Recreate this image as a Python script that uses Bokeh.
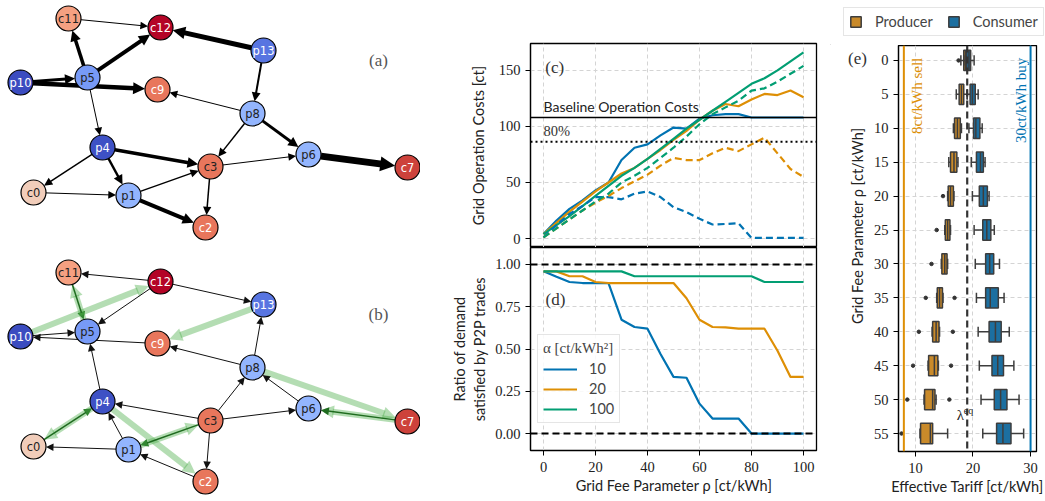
import math
from bokeh.plotting import figure
from bokeh.models import (Range1d, Arrow, NormalHead, Label, Legend, LegendItem,
                          FixedTicker, PrintfTickFormatter, Span)
from bokeh.layouts import row, column
from bokeh.embed import file_html
from bokeh.resources import INLINE
from bokeh.core.properties import value

SERIF = "Liberation Serif"
SANS = "Lato"
NODE_FONT = "DejaVu Sans"
BLUE, ORANGE, GREEN = "#0173b2", "#de8f05", "#029e73"
BOX_ORANGE, BOX_BLUE, BOX_EDGE = "#c98a2a", "#1c6fa0", "#3d3d3d"

# ---------------- data: panels (c) and (d) ----------------
rho = [0, 5, 10, 15, 20, 25, 30, 35, 40, 45, 50, 55, 60, 65, 70, 75, 80, 85, 90, 95, 100]
cost_a10 = [4, 16, 26.5, 34, 43, 50, 70, 81, 84, 92, 99, 98, 107, 110, 111, 111, 108, 108, 108, 108, 108]
cost_a10_dash = [1, 12, 22, 29, 37, 37, 35, 40, 42, 37, 28, 23.5, 17.6, 12.5, 13, 13.7, 0.6, 0.5, 0.5, 0.5, 0.5]
cost_a20 = [4, 14, 24, 33, 42, 50, 58, 63, 71, 79, 88, 96, 106, 114, 120, 118, 124, 129, 128, 132, 126]
cost_a20_dash = [1, 9, 17, 25, 32, 38, 45, 51, 57, 65, 72, 70, 70, 76, 81, 78, 84, 90, 76, 62, 55]
cost_a100 = [4, 12, 20, 29, 38, 47, 56, 63, 71, 80, 89, 98, 106, 114, 122, 130, 138, 143, 150, 158, 166]
cost_a100_dash = [1, 9, 17, 25, 33, 40, 50, 56, 63, 72, 81, 91, 102, 111, 117, 123, 132, 134, 140, 147, 154]
baseline_cost = 108
ratio_a10 = [0.959, 0.927, 0.896, 0.89, 0.89, 0.89, 0.673, 0.63, 0.62, 0.47, 0.335,
             0.33, 0.177, 0.089, 0.089, 0.089, 0.0, 0.0, 0.0, 0.0, 0.0]
ratio_a20 = [0.959, 0.959, 0.93, 0.93, 0.896, 0.89, 0.89, 0.89, 0.89, 0.89, 0.89,
             0.80, 0.673, 0.63, 0.628, 0.62, 0.62, 0.62, 0.49, 0.335, 0.335]
ratio_a100 = [0.959, 0.959, 0.959, 0.959, 0.959, 0.959, 0.959, 0.93, 0.93, 0.93, 0.93,
              0.93, 0.93, 0.93, 0.93, 0.93, 0.93, 0.896, 0.896, 0.896, 0.896]
alpha_labels = ["10", "20", "100"]

# ---------------- data: panel (e) ----------------
rho_box = [0, 5, 10, 15, 20, 25, 30, 35, 40, 45, 50, 55]
prod_q1 = [18.4, 17.6, 16.8, 16.1, 15.7, 15.2, 14.6, 13.8, 13.0, 12.3, 11.6, 10.9]
prod_med = [18.7, 18.0, 17.3, 16.7, 16.1, 15.6, 15.1, 14.2, 13.6, 13.3, 13.0, 12.6]
prod_q3 = [19.0, 18.4, 17.8, 17.2, 16.6, 16.0, 15.5, 14.7, 14.1, 13.9, 13.4, 13.0]
prod_lo = [17.9, 17.1, 16.6, 15.8, 15.6, 15.1, 14.5, 13.7, 12.9, 12.2, 11.5, 10.8]
prod_hi = [19.2, 19.0, 18.0, 17.4, 16.7, 16.1, 15.6, 14.8, 14.2, 14.0, 13.6, 15.6]
prod_out_rho = [0, 20, 25, 30, 35, 35, 40, 40, 45, 45, 50, 50, 55]
prod_out_val = [17.5, 14.8, 13.7, 12.8, 11.8, 16.8, 10.6, 16.5, 9.6, 16.2, 8.6, 15.9, 7.6]
cons_q1 = [18.9, 19.5, 20.1, 20.6, 21.1, 21.7, 22.2, 22.2, 22.8, 23.3, 23.7, 24.1]
cons_med = [19.3, 19.9, 20.5, 21.3, 21.8, 22.4, 22.9, 23.0, 23.9, 24.3, 24.8, 25.2]
cons_q3 = [19.6, 20.4, 21.2, 21.8, 22.5, 23.1, 23.6, 24.4, 24.9, 25.3, 25.9, 26.6]
cons_lo = [18.4, 19.0, 19.3, 19.7, 19.9, 20.2, 20.4, 20.6, 20.9, 21.1, 21.4, 21.7]
cons_hi = [20.2, 20.9, 21.6, 22.1, 22.8, 23.7, 24.6, 25.4, 26.3, 27.1, 28.0, 28.8]
sell_price = 8
buy_price = 30
lambda_eq = 19
group_names = ["Producer", "Consumer"]

# ---------------- data: network panels (a), (b) ----------------
nodes = ["c0", "p1", "c2", "c3", "p4", "p5", "p6", "c7", "p8", "c9", "p10", "c11", "c12", "p13"]
pos_x = [33, 128, 205, 210, 102, 87, 308, 407, 252, 157, 20, 68, 160, 263]
pos_y = [192, 195, 227, 166, 147, 77, 154, 167, 113, 89, 82, 18, 27, 50]
node_fill = ["#f1cdba", "#93b5fe", "#e8765c", "#e8765c", "#3e51c5", "#779af7", "#93b5fe",
             "#cd423b", "#93b5fe", "#e8765c", "#3b4cc0", "#f5a081", "#b40426", "#5875e1"]
node_text = ["#222222", "#222222", "white", "#222222", "white", "#222222", "#222222",
             "white", "#222222", "white", "white", "#222222", "white", "white"]
edges_a = [("c11", "c12", 1), ("p13", "c12", 5), ("p5", "c11", 3.5), ("p5", "c12", 4),
           ("p10", "p5", 3), ("p10", "c9", 4.5), ("p5", "p4", 1), ("p8", "c9", 1),
           ("p13", "p8", 2), ("p8", "c3", 1.5), ("p8", "p6", 3), ("p4", "c3", 3.5),
           ("p4", "c0", 1.5), ("p4", "p1", 2.5), ("c0", "p1", 1), ("p1", "c3", 1.5),
           ("p1", "c2", 4), ("c3", "c2", 1.5), ("c3", "p6", 1), ("p6", "c7", 7)]
edges_b_black = [("c12", "c11"), ("c12", "p5"), ("c12", "p13"), ("p10", "p5"), ("c9", "p10"),
                 ("p4", "p5"), ("p8", "c9"), ("p8", "p13"), ("c3", "p8"), ("p6", "p8"),
                 ("c3", "p4"), ("p1", "p4"), ("c3", "p6"), ("c3", "c2"), ("c2", "p1"), ("p1", "c0")]
edges_b_green = [("c11", "p5"), ("c0", "p4"), ("c3", "p1"), ("c7", "p6")]
edges_b_band = [("p10", "c12"), ("p13", "c9"), ("p8", "c7"), ("p4", "c2"), ("p5", "c11"),
                ("p4", "c0"), ("p1", "c3"), ("c7", "p6")]
panel_b_offset = 254

# =============== network figure ===============
R = 12.5
idx = {n: i for i, n in enumerate(nodes)}

pn = figure(width=420, height=501, x_range=Range1d(0, 420), y_range=Range1d(501, 0),
            output_backend="svg", toolbar_location=None, min_border=0, title=None,
            x_axis_location=None, y_axis_location=None)
pn.grid.visible = False
pn.outline_line_color = None


def draw_edge(p, u, v, w, off, color, alpha, hl):
    x0, y0 = pos_x[idx[u]], pos_y[idx[u]] + off
    x1, y1 = pos_x[idx[v]], pos_y[idx[v]] + off
    L = math.hypot(x1 - x0, y1 - y0)
    ux, uy = (x1 - x0) / L, (y1 - y0) / L
    sx, sy = x0 + R * ux, y0 + R * uy
    ex, ey = x1 - R * ux, y1 - R * uy
    bx, by = ex - hl * ux * 0.9, ey - hl * uy * 0.9
    p.segment(x0=[sx], y0=[sy], x1=[bx], y1=[by], line_width=w, line_color=color,
              line_alpha=alpha)
    p.add_layout(Arrow(end=NormalHead(size=hl, fill_color=color, fill_alpha=alpha, line_color=None),
                       x_start=bx, y_start=by, x_end=ex, y_end=ey, line_alpha=0,
                       level="underlay"))


for u, v, w in edges_a:
    draw_edge(pn, u, v, w, 0, "black", 1.0, 6.5 + 1.2 * w)
for u, v in edges_b_black:
    draw_edge(pn, u, v, 1, panel_b_offset, "#111111", 1.0, 7.5)
for u, v in edges_b_band:
    draw_edge(pn, u, v, 6, panel_b_offset, "#4daf4a", 0.42, 13)
for u, v in edges_b_green:
    draw_edge(pn, u, v, 1.5, panel_b_offset, "#1f6b1f", 1.0, 8)

for off in (0, panel_b_offset):
    ys = [y + off for y in pos_y]
    pn.scatter(pos_x, ys, size=25, fill_color=node_fill, line_color="black", line_width=1.2)
    pn.text(pos_x, ys, text=nodes, text_color=node_text, text_align="center",
            text_baseline="middle", text_font=value(NODE_FONT), text_font_size="11.5px")

pn.add_layout(Label(x=378, y=60, text="(a)", text_align="center", text_baseline="middle",
                    text_font=SERIF, text_font_size="17px", text_color="#555555"))
pn.add_layout(Label(x=378, y=60 + panel_b_offset, text="(b)", text_align="center",
                    text_baseline="middle", text_font=SERIF, text_font_size="17px",
                    text_color="#555555"))


# =============== style helper ===============
def style(p):
    p.outline_line_color = "black"
    p.outline_line_width = 1.3
    for ax in p.axis:
        ax.axis_line_color = "black"
        ax.axis_line_width = 1.2
        ax.major_tick_out = 5
        ax.major_tick_in = 0
        ax.major_tick_line_color = "black"
        ax.minor_tick_line_color = None
        ax.major_label_text_font = SERIF
        ax.major_label_text_font_size = "14.5px"
        ax.major_label_text_color = "#222222"
        ax.axis_label_text_font = SANS
        ax.axis_label_text_font_size = "14.5px"
        ax.axis_label_text_font_style = "normal"
        ax.axis_label_text_color = "#222222"
    for g in p.grid:
        g.grid_line_color = "#d4d4d4"
        g.grid_line_dash = "4 3"
        g.grid_line_width = 1


# =============== panel (c) ===============
xr = Range1d(-5, 105)
pc = figure(width=410, height=247, x_range=xr, y_range=Range1d(-8, 174),
            output_backend="svg", toolbar_location=None, x_axis_location=None, title=None,
            min_border_left=110, min_border_right=14, min_border_top=43, min_border_bottom=0)
pc.yaxis.ticker = FixedTicker(ticks=[0, 50, 100, 150])
pc.xgrid[0].ticker = FixedTicker(ticks=[0, 20, 40, 60, 80, 100])
pc.yaxis.axis_label = "Grid Operation Costs [ct]"
style(pc)
pc.yaxis.axis_label_standoff = 9

pc.add_layout(Span(location=baseline_cost, dimension="width", line_color="black", line_width=1.6))
pc.add_layout(Span(location=0.8 * baseline_cost, dimension="width", line_color="black",
                   line_width=2, line_dash="2 3"))
for ys, col in ((cost_a10, BLUE), (cost_a20, ORANGE), (cost_a100, GREEN)):
    pc.line(rho, ys, line_color=col, line_width=2.2)
for ys, col in ((cost_a10_dash, BLUE), (cost_a20_dash, ORANGE), (cost_a100_dash, GREEN)):
    pc.line(rho, ys, line_color=col, line_width=2.2, line_dash="7 4")
pc.add_layout(Label(x=0, y=baseline_cost + 2.5, text="Baseline Operation Costs", text_font=SANS,
                    text_font_size="14px", text_baseline="bottom", text_color="#222222"))
pc.add_layout(Label(x=0, y=0.8 * baseline_cost + 2.5, text="80%", text_font=SERIF,
                    text_font_size="14.5px", text_baseline="bottom", text_color="#333333"))
pc.add_layout(Label(x=4.3, y=153, text="(c)", text_font=SERIF, text_font_size="17px",
                    text_align="center", text_baseline="middle", text_color="#333333"))

# =============== panel (d) ===============
pdd = figure(width=410, height=254, x_range=xr, y_range=Range1d(-0.1, 1.1), title=None,
             output_backend="svg", toolbar_location=None,
             min_border_left=110, min_border_right=14, min_border_top=0, min_border_bottom=51)
pdd.xaxis.ticker = FixedTicker(ticks=[0, 20, 40, 60, 80, 100])
pdd.yaxis.ticker = FixedTicker(ticks=[0, 0.25, 0.5, 0.75, 1.0])
pdd.yaxis.formatter = PrintfTickFormatter(format="%.2f")
pdd.xaxis.axis_label = "Grid Fee Parameter ρ [ct/kWh]"
pdd.yaxis.axis_label = "Ratio of demand\nsatisfied by P2P trades"
style(pdd)
pdd.yaxis.axis_label_standoff = 4
pdd.xaxis.major_label_standoff = 6
pdd.xaxis.axis_label_standoff = 2

for loc in (1.0, 0.0):
    pdd.add_layout(Span(location=loc, dimension="width", line_color="black", line_width=2,
                        line_dash="7 4"))
items = []
for ys, col, lab in ((ratio_a10, BLUE, alpha_labels[0]), (ratio_a20, ORANGE, alpha_labels[1]),
                     (ratio_a100, GREEN, alpha_labels[2])):
    r = pdd.line(rho, ys, line_color=col, line_width=2.2)
    items.append(LegendItem(label=lab, renderers=[r]))
leg = Legend(items=items, location=(7, 27), title="α [ct/kWh²]",
             title_text_font=SERIF, title_text_font_size="15px", title_text_font_style="normal",
             label_text_font=SANS, label_text_font_size="14.5px", glyph_width=34, glyph_height=14,
             label_standoff=12, spacing=3, padding=5, margin=0, border_line_color="#cccccc",
             background_fill_alpha=0.85, label_height=14, title_standoff=3)
pdd.add_layout(leg, "center")
pdd.add_layout(Label(x=4.6, y=0.79, text="(d)", text_font=SERIF, text_font_size="17px",
                     text_align="center", text_baseline="middle", text_color="#333333"))

# =============== panel (e): legend strip ===============
pl = figure(width=215, height=45, x_range=Range1d(0, 1), y_range=Range1d(0, 1),
            output_backend="svg", toolbar_location=None, min_border=0, title=None,
            x_axis_location=None, y_axis_location=None)
pl.grid.visible = False
pl.outline_line_color = None
# legend swatches: bars placed outside the visible range, only their legend glyphs show
r_prod = pl.hbar(y=[-5], left=[-5], right=[-4], height=1, fill_color=BOX_ORANGE,
                 line_color=BOX_EDGE, line_width=1.5)
r_cons = pl.hbar(y=[-5], left=[-5], right=[-4], height=1, fill_color=BOX_BLUE,
                 line_color=BOX_EDGE, line_width=1.5)
leg_e = Legend(items=[LegendItem(label=group_names[0], renderers=[r_prod]),
                      LegendItem(label=group_names[1], renderers=[r_cons])],
               location=(13, 9), orientation="horizontal",
               label_text_font=SANS, label_text_font_size="14.5px", glyph_width=13,
               glyph_height=13, label_standoff=13, spacing=14, padding=5, margin=0,
               border_line_color="#cccccc", label_height=13)
pl.add_layout(leg_e, "center")

# =============== panel (e): left strip with axis label and tag ===============
ps = figure(width=40, height=456, x_range=Range1d(830, 870), y_range=Range1d(501, 45),
            output_backend="svg", toolbar_location=None, min_border=0, title=None,
            x_axis_location=None, y_axis_location=None)
ps.grid.visible = False
ps.outline_line_color = None
ps.text([857], [248], text=["Grid Fee Parameter ρ [ct/kWh]"], angle=math.pi / 2,
        text_align="center", text_baseline="middle", text_color="#222222",
        text_font=value(SANS), text_font_size="14.5px")
ps.text([857], [60], text=["(e)"], text_align="center", text_baseline="middle",
        text_color="#333333", text_font=value(SERIF), text_font_size="17px")

# =============== panel (e): box plot ===============
pe = figure(width=175, height=456, x_range=Range1d(7.07, 31.03), y_range=Range1d(11.53, -0.44),
            output_backend="svg", toolbar_location=None, title=None,
            min_border_left=27, min_border_right=9, min_border_top=0, min_border_bottom=50)
ypos = list(range(len(rho_box)))
pe.yaxis.ticker = FixedTicker(ticks=ypos)
pe.yaxis.major_label_overrides = {i: str(r) for i, r in zip(ypos, rho_box)}
pe.xaxis.ticker = FixedTicker(ticks=[10, 20, 30])
pe.xaxis.axis_label = "Effective Tariff [ct/kWh]"
style(pe)
pe.xaxis.major_label_standoff = 6
pe.xaxis.axis_label_standoff = 2

pe.add_layout(Span(location=sell_price, dimension="height", line_color=ORANGE, line_width=2))
pe.add_layout(Span(location=buy_price, dimension="height", line_color=BLUE, line_width=2))
pe.add_layout(Span(location=lambda_eq, dimension="height", line_color="#333333", line_width=2.2,
                   line_dash="7 4"))

BH = 0.6
for q1, med, q3, lo, hi, col in (
        (prod_q1, prod_med, prod_q3, prod_lo, prod_hi, BOX_ORANGE),
        (cons_q1, cons_med, cons_q3, cons_lo, cons_hi, BOX_BLUE)):
    pe.segment(x0=lo, y0=ypos, x1=q1, y1=ypos, line_color=BOX_EDGE, line_width=1.5)
    pe.segment(x0=q3, y0=ypos, x1=hi, y1=ypos, line_color=BOX_EDGE, line_width=1.5)
    pe.segment(x0=lo, y0=[y - BH / 4 for y in ypos], x1=lo, y1=[y + BH / 4 for y in ypos],
               line_color=BOX_EDGE, line_width=1.5)
    pe.segment(x0=hi, y0=[y - BH / 4 for y in ypos], x1=hi, y1=[y + BH / 4 for y in ypos],
               line_color=BOX_EDGE, line_width=1.5)
    pe.hbar(y=ypos, left=q1, right=q3, height=BH, fill_color=col,
            line_color=BOX_EDGE, line_width=1.5)
    pe.segment(x0=med, y0=[y - BH / 2 for y in ypos], x1=med, y1=[y + BH / 2 for y in ypos],
               line_color=BOX_EDGE, line_width=1.5)
pe.scatter(prod_out_val, [ypos[rho_box.index(r)] for r in prod_out_rho], size=3.5,
           fill_color="#333333", line_color="#333333")

pe.text([sell_price + 2.2], [-0.08], text=["8ct/kWh sell"], angle=math.pi / 2,
        text_align="right", text_baseline="middle", text_color=ORANGE,
        text_font=value(SERIF), text_font_size="15px")
pe.text([buy_price - 1.7], [-0.08], text=["30ct/kWh buy"], angle=math.pi / 2,
        text_align="right", text_baseline="middle", text_color=BLUE,
        text_font=value(SERIF), text_font_size="15px")
pe.text([lambda_eq - 0.55], [10.44], text=["λ"], text_align="right", text_baseline="middle",
        text_color="#222222", text_font=value(SERIF), text_font_size="15px")
pe.text([lambda_eq - 0.6], [10.32], text=["eq"], text_align="left", text_baseline="middle",
        text_color="#222222", text_font=value(SERIF), text_font_size="10px")

layout = row(pn, column(pc, pdd), column(pl, row(ps, pe)))
open("out.html", "w").write(file_html(layout, INLINE))
